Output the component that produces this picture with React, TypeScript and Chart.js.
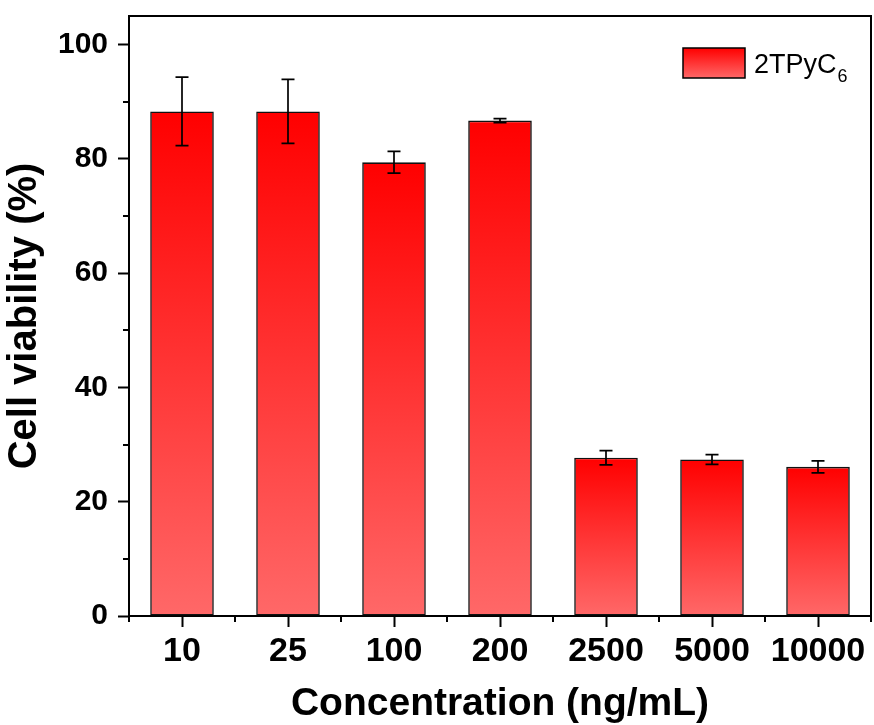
import React, { useEffect, useRef } from 'react';
import { Chart, registerables } from 'chart.js';

Chart.register(...registerables);

const categories = ['10', '25', '100', '200', '2500', '5000', '10000'];
const viability = [88.3, 88.3, 79.4, 86.7, 27.7, 27.4, 26.1];
const errors = [6.0, 5.6, 1.9, 0.35, 1.25, 0.85, 1.05];
const yTicks = [0, 20, 40, 60, 80, 100];
const yMinorTicks = [10, 30, 50, 70, 90];
const seriesName = '2TPyC';
const seriesSub = '6';
const xTitle = 'Concentration (ng/mL)';
const yTitle = 'Cell viability (%)';

const FONT = '"Liberation Sans", Arial, Helvetica, sans-serif';
const TOP_RED = '#ff0000';
const BOTTOM_RED = '#ff6868';

const framePlugin = {
  id: 'frameAndMinor',
  afterDraw(chart: any) {
    const { ctx, chartArea, scales } = chart;
    const { left, right, top, bottom } = chartArea;
    ctx.save();
    ctx.strokeStyle = '#000';
    ctx.lineWidth = 2;
    ctx.beginPath();
    ctx.moveTo(left, top);
    ctx.lineTo(right, top);
    ctx.lineTo(right, bottom);
    ctx.stroke();
    const y = scales.y;
    ctx.beginPath();
    yMinorTicks.forEach((v) => {
      const py = Math.round(y.getPixelForValue(v));
      ctx.moveTo(left - 6, py);
      ctx.lineTo(left, py);
    });
    const x = scales.x;
    const n = categories.length;
    const step = x.getPixelForValue(1) - x.getPixelForValue(0);
    for (let i = 0; i <= n; i++) {
      const px = Math.round(x.getPixelForValue(0) - step / 2 + i * step);
      ctx.moveTo(px, bottom);
      ctx.lineTo(px, bottom + 6);
    }
    ctx.stroke();
    ctx.restore();
  },
};

const errorBarPlugin = {
  id: 'errorBars',
  afterDatasetsDraw(chart: any) {
    const { ctx, scales } = chart;
    const meta = chart.getDatasetMeta(0);
    const y = scales.y;
    ctx.save();
    ctx.strokeStyle = '#000';
    ctx.lineWidth = 1.7;
    meta.data.forEach((bar: any, i: number) => {
      const v = viability[i];
      const e = errors[i];
      const yt = y.getPixelForValue(v + e);
      const yb = y.getPixelForValue(v - e);
      const cx = bar.x;
      const hw = 6.5;
      ctx.beginPath();
      ctx.moveTo(cx, yt);
      ctx.lineTo(cx, yb);
      ctx.moveTo(cx - hw, yt);
      ctx.lineTo(cx + hw, yt);
      ctx.moveTo(cx - hw, yb);
      ctx.lineTo(cx + hw, yb);
      ctx.stroke();
    });
    ctx.restore();
  },
};

const legendPlugin = {
  id: 'customLegend',
  afterDraw(chart: any) {
    const { ctx, chartArea } = chart;
    const bx = chartArea.right - 188;
    const by = chartArea.top + 32;
    const bw = 62;
    const bh = 30;
    ctx.save();
    const g = ctx.createLinearGradient(0, by, 0, by + bh);
    g.addColorStop(0, TOP_RED);
    g.addColorStop(1, BOTTOM_RED);
    ctx.fillStyle = g;
    ctx.fillRect(bx, by, bw, bh);
    ctx.strokeStyle = '#000';
    ctx.lineWidth = 1.5;
    ctx.strokeRect(bx, by, bw, bh);
    ctx.fillStyle = '#000';
    ctx.textBaseline = 'alphabetic';
    ctx.textAlign = 'left';
    ctx.font = `27px ${FONT}`;
    const tx = bx + bw + 9;
    const ty = by + 25;
    ctx.fillText(seriesName, tx, ty);
    const w = ctx.measureText(seriesName).width;
    ctx.font = `18px ${FONT}`;
    ctx.fillText(seriesSub, tx + w + 1, ty + 9);
    ctx.restore();
  },
};

export default function App() {
  const ref = useRef<HTMLCanvasElement | null>(null);
  useEffect(() => {
    if (!ref.current) return;
    const chart = new Chart(ref.current, {
      type: 'bar',
      data: {
        labels: categories,
        datasets: [
          {
            label: seriesName + seriesSub,
            data: viability,
            backgroundColor: (c: any) => {
              const ch = c.chart;
              if (!ch.chartArea || c.type !== 'data') return TOP_RED;
              const ys = ch.scales.y;
              const t = ys.getPixelForValue(viability[c.dataIndex]);
              const b = ys.getPixelForValue(0);
              if (!isFinite(t) || !isFinite(b) || t === b) return TOP_RED;
              const g = ch.ctx.createLinearGradient(0, t, 0, b);
              g.addColorStop(0, TOP_RED);
              g.addColorStop(1, BOTTOM_RED);
              return g;
            },
            borderColor: '#111',
            borderWidth: 1.6,
            borderSkipped: false,
            barPercentage: 0.6,
            categoryPercentage: 1.0,
          },
        ],
      },
      options: {
        animation: false,
        responsive: true,
        maintainAspectRatio: false,
        devicePixelRatio: 1,
        layout: { padding: { top: 16, right: 3, left: 0, bottom: 0 } },
        plugins: {
          legend: { display: false },
          tooltip: { enabled: false },
          title: { display: false },
        },
        scales: {
          x: {
            type: 'category',
            offset: true,
            border: { display: true, color: '#000', width: 2 },
            grid: {
              display: true,
              drawOnChartArea: false,
              drawTicks: true,
              tickLength: 11,
              tickWidth: 2,
              tickColor: '#000',
              offset: false,
            },
            ticks: {
              color: '#000',
              font: { family: FONT, size: 34, weight: 'bold' },
              padding: 4,
              maxRotation: 0,
              autoSkip: false,
            },
            title: {
              display: true,
              text: xTitle,
              color: '#000',
              font: { family: FONT, size: 39, weight: 'bold', lineHeight: 1 },
              padding: { top: 0, bottom: 1 },
            },
            afterFit: (s: any) => {
              s.height = 109;
              s.paddingLeft = 0;
              s.paddingRight = 0;
            },
          },
          y: {
            type: 'linear',
            min: 0,
            max: 105,
            border: { display: true, color: '#000', width: 2 },
            grid: {
              display: true,
              drawOnChartArea: false,
              drawTicks: true,
              tickLength: 11,
              tickWidth: 2,
              tickColor: '#000',
            },
            ticks: {
              color: '#000',
              font: { family: FONT, size: 30, weight: 'bold' },
              padding: 10,
            },
            afterBuildTicks: (s: any) => {
              s.ticks = yTicks.map((v) => ({ value: v }));
            },
            title: {
              display: true,
              text: yTitle,
              color: '#000',
              font: { family: FONT, size: 40, weight: 'bold', lineHeight: 1 },
              padding: { top: 5, bottom: 0 },
            },
            afterFit: (s: any) => {
              s.width = 129;
              s.paddingTop = 0;
              s.paddingBottom = 0;
            },
          },
        },
      },
      plugins: [framePlugin, errorBarPlugin, legendPlugin],
    } as any);
    return () => chart.destroy();
  }, []);
  return (
    <div style={{ position: 'fixed', left: 0, top: 0, width: 874, height: 725, background: '#fff' }}>
      <canvas ref={ref} />
    </div>
  );
}
